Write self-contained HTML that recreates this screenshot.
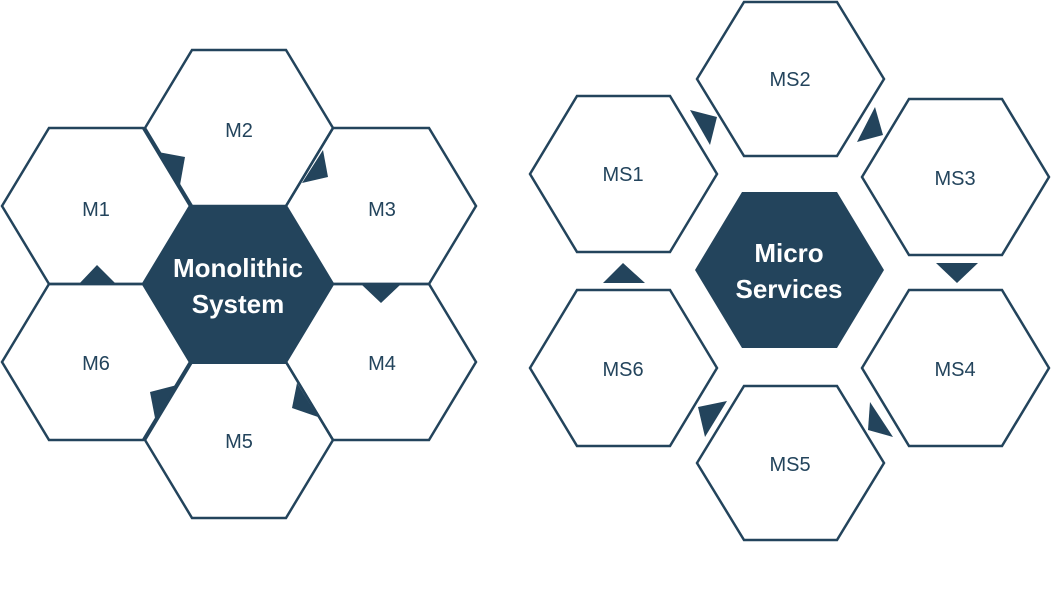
<!DOCTYPE html>
<html><head><style>body{margin:0;background:#fff}</style></head><body>
<svg width="1051" height="584" xmlns="http://www.w3.org/2000/svg" font-family="Liberation Sans, Arial, sans-serif">
<g fill="none" stroke="#23445c" stroke-width="2.5">
<polygon points="145,128 192,50 286,50 333,128 286,206 192,206"/>
<polygon points="2,206 49,128 143,128 190,206 143,284 49,284"/>
<polygon points="286,206 333,128 429,128 476,206 429,284 333,284"/>
<polygon points="2,362 49,284 143,284 190,362 143,440 49,440"/>
<polygon points="286,362 333,284 429,284 476,362 429,440 333,440"/>
<polygon points="145,440 192,362 286,362 333,440 286,518 192,518"/>
<polygon points="697,79 744,2 837,2 884,79 837,156 744,156"/>
<polygon points="530,174 577,96 670,96 717,174 670,252 577,252"/>
<polygon points="862,177 909,99 1002,99 1049,177 1002,255 909,255"/>
<polygon points="862,368 909,290 1002,290 1049,368 1002,446 909,446"/>
<polygon points="697,463 744,386 837,386 884,463 837,540 744,540"/>
<polygon points="530,368 577,290 670,290 717,368 670,446 577,446"/>
</g>
<g fill="#23445c">
<polygon points="143,285 190,206 286,206 333,285 286,364 190,364"/>
<polygon points="695,270 742,192 837,192 884,270 837,348 742,348"/>
<polygon points="158,152 185,157 180,185"/>
<polygon points="302,183 328,177 323,150"/>
<polygon points="150,392 177,385 155,418"/>
<polygon points="292,408 318,417 297,383"/>
<polygon points="78,285 117,285 97,265"/>
<polygon points="362,285 400,285 381,303"/>
<polygon points="690,110 717,117 710,145"/>
<polygon points="857,142 883,135 875,107"/>
<polygon points="936,263 978,263 957,283"/>
<polygon points="870,402 868,430 893,437"/>
<polygon points="698,407 727,401 705,437"/>
<polygon points="603,283 645,283 623,263"/>
</g>
<g fill="#23445c" font-size="20" text-anchor="middle">
<text x="239" y="137">M2</text>
<text x="96" y="216">M1</text>
<text x="382" y="216">M3</text>
<text x="96" y="370">M6</text>
<text x="382" y="370">M4</text>
<text x="239" y="448">M5</text>
<text x="790" y="86">MS2</text>
<text x="623" y="181">MS1</text>
<text x="955" y="185">MS3</text>
<text x="955" y="376">MS4</text>
<text x="790" y="471">MS5</text>
<text x="623" y="376">MS6</text>
</g>
<g fill="#fff" font-size="26" font-weight="bold" text-anchor="middle">
<text x="238" y="277">Monolithic</text>
<text x="238" y="313">System</text>
<text x="789" y="262">Micro</text>
<text x="789" y="298">Services</text>
</g>
</svg>
</body></html>
